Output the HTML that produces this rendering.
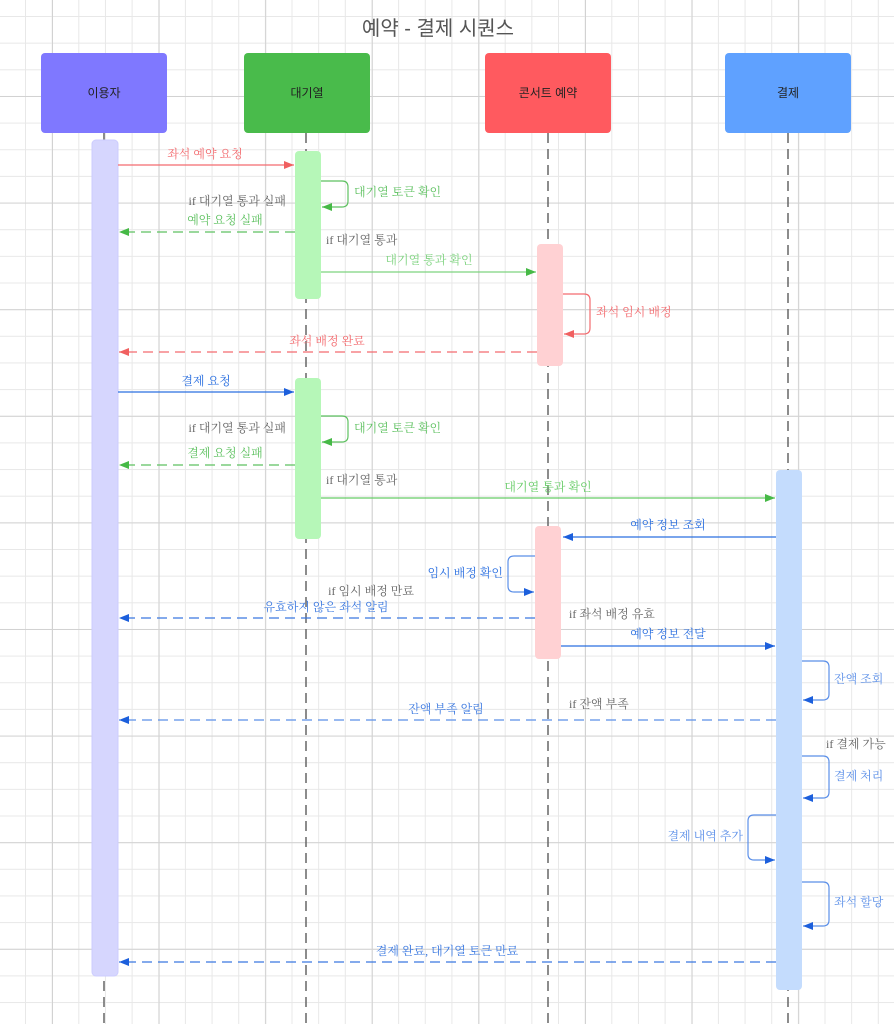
<!DOCTYPE html>
<html><head><meta charset="utf-8"><style>
html,body{margin:0;padding:0;background:#fff}
svg{display:block}
text{font-family:"Liberation Serif","Noto Serif CJK SC","Noto Sans CJK KR",serif;font-size:12px}
.s{font-family:"Liberation Sans","Noto Sans CJK KR",sans-serif}
</style></head><body>
<svg width="894" height="1024" viewBox="0 0 894 1024" xmlns="http://www.w3.org/2000/svg">
<defs>
<pattern id="mi" x="-0.65" y="16" width="26.65" height="26.65" patternUnits="userSpaceOnUse"><path d="M26.15 0V26.65M0 0.5H26.65" stroke="#e8e8e8" stroke-width="1" fill="none"/></pattern>
<pattern id="ma" x="52" y="96" width="106.6" height="106.6" patternUnits="userSpaceOnUse"><path d="M0.5 0V106.6M0 0.5H106.6" stroke="#d2d2d2" stroke-width="1" fill="none"/></pattern>
<marker id="ar" viewBox="0 0 10 10" refX="10" refY="5" markerWidth="9" markerHeight="9" orient="auto-start-reverse" markerUnits="userSpaceOnUse"><path d="M0 1L10 5L0 9z" fill="context-stroke"/></marker>
<marker id="r" viewBox="0 0 10 10" refX="10" refY="5" markerWidth="10" markerHeight="10" orient="auto" markerUnits="userSpaceOnUse"><path d="M0 1L10 5L0 9z" fill="#f06060"/></marker>
<marker id="g" viewBox="0 0 10 10" refX="10" refY="5" markerWidth="10" markerHeight="10" orient="auto" markerUnits="userSpaceOnUse"><path d="M0 1L10 5L0 9z" fill="#46b946"/></marker>
<marker id="b" viewBox="0 0 10 10" refX="10" refY="5" markerWidth="10" markerHeight="10" orient="auto" markerUnits="userSpaceOnUse"><path d="M0 1L10 5L0 9z" fill="#1c5fdc"/></marker>
</defs>
<rect width="894" height="1024" fill="#fff"/>
<rect width="894" height="1024" fill="url(#mi)"/>
<rect width="894" height="1024" fill="url(#ma)"/>
<text x="438" y="35" text-anchor="middle" class="s" style="font-size:20px" fill="#555">예약 - 결제 시퀀스</text>
<!-- lifelines -->
<g stroke="#666" stroke-width="1.5" stroke-dasharray="10,6">
<line x1="104" y1="133" x2="104" y2="1024"/>
<line x1="306" y1="133" x2="306" y2="1024"/>
<line x1="548" y1="133" x2="548" y2="1024"/>
<line x1="788" y1="133" x2="788" y2="1024"/>
</g>
<!-- headers -->
<rect x="41" y="53" width="126" height="80" rx="4" fill="#7f78ff"/>
<rect x="244" y="53" width="126" height="80" rx="4" fill="#49bb4b"/>
<rect x="485" y="53" width="126" height="80" rx="4" fill="#ff5a5f"/>
<rect x="725" y="53" width="126" height="80" rx="4" fill="#5fa1ff"/>
<g class="s" text-anchor="middle" fill="#222" style="font-size:12px">
<text x="104" y="97" class="s">이용자</text><text x="307" y="97" class="s">대기열</text><text x="548" y="97" class="s">콘서트 예약</text><text x="788" y="97" class="s">결제</text>
</g>
<!-- activations -->
<rect x="92" y="140" width="26" height="836" rx="4" fill="#d6d6fe" stroke="#ccf" />
<rect x="295" y="151" width="26" height="148" rx="4" fill="#b6f7b8"/>
<rect x="295" y="378" width="26" height="161" rx="4" fill="#b6f7b8"/>
<rect x="537" y="244" width="26" height="122" rx="4" fill="#ffd1d3"/>
<rect x="535" y="526" width="26" height="133" rx="4" fill="#ffd1d3"/>
<rect x="776" y="470" width="26" height="520" rx="4" fill="#c4dcfd"/>
<!-- messages -->
<g fill="none" stroke-width="1.2">
<line x1="118" y1="165" x2="294" y2="165" stroke="#f36b6f" marker-end="url(#r)"/>
<path d="M321 181H342Q348 181 348 187V201Q348 207 342 207H322" stroke="#5ec160" marker-end="url(#g)"/>
<line x1="295" y1="232" x2="119" y2="232" stroke="#5ec160" stroke-dasharray="10,6" marker-end="url(#g)"/>
<line x1="321" y1="272" x2="536" y2="272" stroke="#7ed37f" marker-end="url(#g)"/>
<path d="M563 294H584Q590 294 590 300V328Q590 334 584 334H564" stroke="#f36b6f" marker-end="url(#r)"/>
<line x1="537" y1="352" x2="119" y2="352" stroke="#f36b6f" stroke-dasharray="10,6" marker-end="url(#r)"/>
<line x1="118" y1="392" x2="294" y2="392" stroke="#2a6fe0" marker-end="url(#b)"/>
<path d="M321 416H342Q348 416 348 422V436Q348 442 342 442H322" stroke="#5ec160" marker-end="url(#g)"/>
<line x1="295" y1="465" x2="119" y2="465" stroke="#5ec160" stroke-dasharray="10,6" marker-end="url(#g)"/>
<line x1="321" y1="498" x2="775" y2="498" stroke="#66cc66" marker-end="url(#g)"/>
<line x1="776" y1="537" x2="563" y2="537" stroke="#2a6fe0" marker-end="url(#b)"/>
<path d="M535 556H514Q508 556 508 562V586Q508 592 514 592H534" stroke="#5b8fe8" marker-end="url(#b)"/>
<line x1="535" y1="618" x2="119" y2="618" stroke="#3a78e0" stroke-dasharray="10,6" marker-end="url(#b)"/>
<line x1="561" y1="646" x2="775" y2="646" stroke="#2a6fe0" marker-end="url(#b)"/>
<path d="M802 661H823Q829 661 829 667V694Q829 700 823 700H803" stroke="#5b8fe8" marker-end="url(#b)"/>
<line x1="776" y1="720" x2="119" y2="720" stroke="#5b8fe8" stroke-dasharray="10,6" marker-end="url(#b)"/>
<path d="M802 756H823Q829 756 829 762V792Q829 798 823 798H803" stroke="#5b8fe8" marker-end="url(#b)"/>
<path d="M776 815H754Q748 815 748 821V854Q748 860 754 860H775" stroke="#5b8fe8" marker-end="url(#b)"/>
<path d="M802 882H823Q829 882 829 888V920Q829 926 823 926H803" stroke="#5b8fe8" marker-end="url(#b)"/>
<line x1="776" y1="962" x2="119" y2="962" stroke="#3a78e0" stroke-dasharray="10,6" marker-end="url(#b)"/>
</g>
<!-- labels -->
<g>
<text x="205" y="158" text-anchor="middle" fill="#f36b6f">좌석 예약 요청</text>
<text x="354" y="196" fill="#5ec160">대기열 토큰 확인</text>
<text x="286" y="205" text-anchor="end" fill="#666">if 대기열 통과 실패</text>
<text x="225" y="224" text-anchor="middle" fill="#5ec160">예약 요청 실패</text>
<text x="326" y="244" fill="#666">if 대기열 통과</text>
<text x="429" y="264" text-anchor="middle" fill="#7ed37f">대기열 통과 확인</text>
<text x="596" y="316" fill="#f36b6f">좌석 임시 배정</text>
<text x="327" y="345" text-anchor="middle" fill="#f36b6f">좌석 배정 완료</text>
<text x="206" y="385" text-anchor="middle" fill="#2a6fe0">결제 요청</text>
<text x="354" y="432" fill="#5ec160">대기열 토큰 확인</text>
<text x="286" y="432" text-anchor="end" fill="#666">if 대기열 통과 실패</text>
<text x="225" y="457" text-anchor="middle" fill="#5ec160">결제 요청 실패</text>
<text x="326" y="484" fill="#666">if 대기열 통과</text>
<text x="548" y="491" text-anchor="middle" fill="#66cc66">대기열 통과 확인</text>
<text x="668" y="529" text-anchor="middle" fill="#2a6fe0">예약 정보 조회</text>
<text x="503" y="577" text-anchor="end" fill="#2a6fe0">임시 배정 확인</text>
<text x="414" y="595" text-anchor="end" fill="#666">if 임시 배정 만료</text>
<text x="326" y="611" text-anchor="middle" fill="#3a78e0">유효하지 않은 좌석 알림</text>
<text x="569" y="618" fill="#666">if 좌석 배정 유효</text>
<text x="668" y="638" text-anchor="middle" fill="#2a6fe0">예약 정보 전달</text>
<text x="834" y="683" fill="#5b8fe8">잔액 조회</text>
<text x="569" y="708" fill="#666">if 잔액 부족</text>
<text x="446" y="713" text-anchor="middle" fill="#3a78e0">잔액 부족 알림</text>
<text x="826" y="748" fill="#666">if 결제 가능</text>
<text x="834" y="780" fill="#5b8fe8">결제 처리</text>
<text x="743" y="840" text-anchor="end" fill="#5b8fe8">결제 내역 추가</text>
<text x="834" y="906" fill="#5b8fe8">좌석 할당</text>
<text x="447" y="955" text-anchor="middle" fill="#3a78e0">결제 완료, 대기열 토큰 만료</text>
</g>
</svg>
</body></html>
